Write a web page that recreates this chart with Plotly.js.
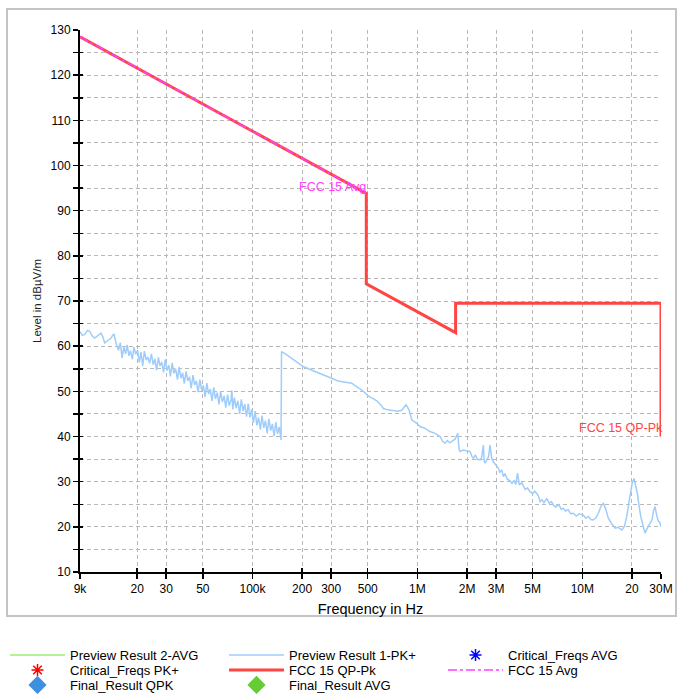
<!DOCTYPE html>
<html><head><meta charset="utf-8">
<script src="https://cdn.plot.ly/plotly-3.0.1.min.js"></script>
<style>html,body{margin:0;padding:0;background:#fff;}</style>
</head><body>
<div id="chart" style="width:679px;height:694px;"></div>
<script>
// ---- axis ticks ----
const xTickVals = [9e3,2e4,3e4,5e4,1e5,2e5,3e5,5e5,1e6,2e6,3e6,5e6,1e7,2e7,3e7];
const xTickText = ['9k','20','30','50','100k','200','300','500','1M','2M','3M','5M','10M','20','30M'];
const yTickVals = [10,15,20,25,30,35,40,45,50,55,60,65,70,75,80,85,90,95,100,105,110,115,120,125,130];
const yTickText = ['10','','20','','30','','40','','50','','60','','70','','80','','90','','100','','110','','120','','130'];

// ---- Preview Result 1-PK+ (frequency in kHz, level in dBµV/m), 9 kHz – 150 kHz ----
const pkLowFreqKHz = [
 9.0,9.3,9.6,10.0,10.3,10.7,11.05,11.5,12.07,12.4,
 12.7,13.2,13.9,14.2,14.47,14.88,15.0,15.4,15.8,16.2,
 16.6,17.0,17.4,17.8,18.2,18.7,19.1,19.6,20.1,20.6,
 21.1,21.6,22.1,22.7,23.2,23.8,24.4,25.0,25.6,26.2,
 26.9,27.5,28.2,28.9,29.6,30.3,31.1,31.8,32.6,33.4,
 34.2,35.1,35.9,36.8,37.7,38.6,39.6,40.5,41.5,42.5,
 43.6,44.6,45.7,46.8,48.0,49.2,50.4,51.6,52.9,54.2,
 55.5,56.8,58.2,59.6,61.1,62.6,64.1,65.7,67.3,68.9,
 70.6,72.3,74.1,75.0,75.9,77.7,79.6,81.6,83.6,85.6,
 87.7,89.8,92.0,94.3,96.6,98.9,101.3,103.8,106.3,108.9,
 111.6,114.3,117.1,119.9,122.8,125.8,128.9,132.0,135.2,138.5,
 141.9,145.4,149.0];
const pkLowLevel = [
 63.2,62.4,62.6,63.5,63.3,62.2,61.8,62.4,62.9,62.0,
 60.7,61.2,61.8,62.4,62.7,60.7,60.2,59.1,60.8,57.4,
 59.9,58.3,60.3,57.9,59.0,57.1,59.8,58.2,59.1,56.4,
 58.7,55.6,58.9,56.9,57.6,56.2,58.3,55.9,57.2,54.7,
 57.5,55.6,56.5,54.2,57.1,54.6,55.8,53.3,56.3,54.0,
 55.0,52.6,55.4,52.9,54.1,51.7,54.4,52.3,53.2,50.7,
 53.6,51.4,52.3,49.8,52.6,50.2,51.3,48.7,51.8,49.4,
 50.5,47.9,50.9,48.3,49.7,47.1,50.0,47.6,49.0,46.4,
 49.3,46.8,48.1,50.2,46.0,48.6,46.3,47.9,45.0,48.2,
 45.6,47.2,44.4,47.3,44.2,46.0,43.0,45.6,42.5,44.2,
 41.5,44.6,41.9,43.5,40.7,43.9,41.3,42.8,40.1,43.2,
 40.6,42.1,39.2];

// ---- Preview Result 1-PK+, 150 kHz – 30 MHz ----
const pkHighFreqKHz = [
 150,160,180,203,239.5,270,302,330,360,400,
 430,460,504,516,540,567,600,622,660,715,
 760,804,853,875,894,924,960,991,1038,1100,
 1193,1280,1372,1420,1471,1520,1570,1616,1691,1757,
 1790,1814,1900,2000,2085,2140,2184,2250,2300,2399,
 2450,2512,2540,2572,2650,2700,2757,2820,2887,3000,
 3097,3160,3250,3320,3400,3500,3646,3750,3850,3950,
 4050,4150,4300,4389,4500,4650,4820,5000,5150,5293,
 5420,5543,5700,5850,6087,6300,6500,6675,6900,7200,
 7450,7672,7900,8200,8500,8823,9200,9600,10140,10500,
 10900,11300,11660,12100,12510,13000,13410,13800,14380,15000,
 15790,16500,17350,18000,18600,19200,19670,20100,20590,21000,
 21560,22100,22610,23300,24010,24800,25750,26500,27000,27610,
 28200,28920,29500,30000];
const pkHighLevel = [
 58.8,58.2,56.8,55.5,54.4,53.7,52.9,52.3,52.0,51.8,
 51.0,50.3,49.0,48.7,48.4,47.9,47.0,46.2,45.9,45.7,
 45.6,45.8,47.0,46.4,45.7,43.7,43.3,42.9,42.2,41.9,
 41.1,40.7,40.0,39.0,38.5,39.1,38.6,38.9,39.4,40.7,
 37.2,36.7,37.0,36.8,36.7,35.6,35.2,35.9,35.0,34.8,
 35.3,38.1,34.6,34.1,34.9,35.5,38.1,35.2,34.4,33.6,
 33.0,32.1,32.6,31.1,31.8,30.6,30.2,29.6,30.3,29.4,
 31.9,29.3,29.8,29.1,28.3,28.6,27.8,27.4,27.9,27.4,
 26.8,25.6,26.0,25.3,26.3,25.2,25.6,24.8,24.4,24.9,
 23.9,24.1,23.5,23.8,22.9,23.0,22.4,22.9,22.6,21.9,
 22.3,21.6,21.5,22.0,23.0,24.6,25.2,24.2,21.9,20.8,
 19.7,19.9,19.3,20.1,22.3,25.5,28.2,29.8,30.7,29.4,
 27.4,24.6,22.3,20.4,18.6,19.7,20.8,21.6,23.5,24.5,
 22.7,21.2,21.0,20.0];

// ---- FCC 15 limit lines (Hz, dBµV/m) ----
const qpFreq = [9e3, 490e3, 490e3, 1.705e6, 1.705e6, 30e6, 30e6];
const qpLevel = [128.5, 93.8, 73.8, 63.0, 69.5, 69.5, 40.0];
const avgFreq = [9e3, 490e3];
const avgLevel = [128.5, 93.8];

// ---- labels ----
const labelAvg = {text: 'FCC 15 Avg', freq: 490e3, level: 95.3};
const labelQP = {text: 'FCC 15 QP-Pk', freq: 30e6, level: 41.9};

const pkFreq = pkLowFreqKHz.concat(pkHighFreqKHz).map(v => v * 1000);
const pkLevel = pkLowLevel.concat(pkHighLevel);

const FONT = 'Liberation Sans, Arial, sans-serif';
const xRange = [Math.log10(9e3), Math.log10(3e7)];
const yRange = [10, 130];
const NONE = [null]; // legend-only series (no visible points in the chart)

const traces = [
  {name: 'Preview Result 1-PK+', x: pkFreq, y: pkLevel, type: 'scatter', mode: 'lines',
   line: {color: '#9fcdfb', width: 1.5}, legend: 'legend2'},
  {name: 'Preview Result 2-AVG', x: NONE, y: NONE, type: 'scatter', mode: 'lines',
   line: {color: '#99ee77', width: 1.5}, legend: 'legend'},
  {name: 'Critical_Freqs AVG', x: NONE, y: NONE, type: 'scatter', mode: 'markers',
   marker: {symbol: 'asterisk-open', size: 10, color: '#0000ff', line: {color: '#0000ff', width: 1.5}}, legend: 'legend3'},
  {name: 'Critical_Freqs PK+', x: NONE, y: NONE, type: 'scatter', mode: 'markers',
   marker: {symbol: 'asterisk-open', size: 10, color: '#ff0000', line: {color: '#ff0000', width: 1.5}}, legend: 'legend4'},
  {name: 'FCC 15 QP-Pk', x: qpFreq, y: qpLevel, type: 'scatter', mode: 'lines',
   line: {color: '#ff4444', width: 3}, legend: 'legend5'},
  {name: 'FCC 15 Avg', x: avgFreq, y: avgLevel, type: 'scatter', mode: 'lines',
   line: {color: '#ff40ff', width: 1.5, dash: 'dashdot'}, legend: 'legend6'},
  {name: 'Final_Result QPK', x: NONE, y: NONE, type: 'scatter', mode: 'markers',
   marker: {symbol: 'diamond', size: 14, color: '#3f8fe0'}, legend: 'legend7'},
  {name: 'Final_Result AVG', x: NONE, y: NONE, type: 'scatter', mode: 'markers',
   marker: {symbol: 'diamond', size: 14, color: '#66cc33'}, legend: 'legend8'},
  {x: NONE, y: NONE, xaxis: 'x2', yaxis: 'y2', showlegend: false, type: 'scatter', mode: 'lines'}
];

// one legend box per entry, laid out as 3 columns x 3 rows below the frame
const colLeftPx = [5, 224, 443];
const rowTopPx = [640, 655, 670];
function legendAt(col, row, itemWidth) {
  return {
    orientation: 'h', xref: 'container', yref: 'container',
    x: colLeftPx[col] / 679, xanchor: 'left', y: 1 - rowTopPx[row] / 694, yanchor: 'top',
    itemwidth: itemWidth || 55,
    font: {family: FONT, size: 13, color: '#000'}, bgcolor: 'rgba(0,0,0,0)'
  };
}

const gridDash = '4px,3px';
const layout = {
  width: 679, height: 694,
  margin: {l: 80, r: 18, t: 30, b: 122},
  paper_bgcolor: '#ffffff', plot_bgcolor: '#ffffff',
  font: {family: FONT, color: '#000', size: 11},
  showlegend: true,
  xaxis: {
    type: 'log', range: xRange, tickmode: 'array', tickvals: xTickVals, ticktext: xTickText,
    ticks: 'outside', ticklen: 5, tickwidth: 1.5, tickcolor: '#000',
    showline: true, linecolor: '#000', linewidth: 2,
    showgrid: true, gridcolor: '#b8b8b8', gridwidth: 1, griddash: gridDash,
    zeroline: false, tickfont: {family: FONT, size: 12, color: '#000'},
    title: {text: 'Frequency in Hz', font: {family: FONT, size: 14.5, color: '#000'}, standoff: 8},
    fixedrange: true
  },
  yaxis: {
    range: yRange, tickmode: 'array', tickvals: yTickVals, ticktext: yTickText,
    ticks: 'outside', ticklen: 5, tickwidth: 1.5, tickcolor: '#000',
    showline: true, linecolor: '#000', linewidth: 2,
    showgrid: true, gridcolor: '#b8b8b8', gridwidth: 1, griddash: gridDash,
    zeroline: false, tickfont: {family: FONT, size: 12, color: '#000'},
    title: {text: 'Level in dBµV/m', font: {family: FONT, size: 11.5, color: '#222'}, standoff: 7},
    fixedrange: true
  },
  xaxis2: {
    type: 'log', range: xRange, overlaying: 'x', anchor: 'y2', tickmode: 'array', tickvals: xTickVals,
    ticks: 'inside', ticklen: 4, tickwidth: 1.5, tickcolor: '#000', showticklabels: false,
    showgrid: false, showline: false, zeroline: false, fixedrange: true
  },
  yaxis2: {
    range: yRange, overlaying: 'y', anchor: 'x2', tickmode: 'array', tickvals: yTickVals,
    ticks: 'inside', ticklen: 3, tickwidth: 1.5, tickcolor: '#000', showticklabels: false,
    showgrid: false, showline: false, zeroline: false, fixedrange: true
  },
  legend: legendAt(0, 0),
  legend2: legendAt(1, 0),
  legend3: legendAt(2, 0),
  legend4: legendAt(0, 1),
  legend5: legendAt(1, 1),
  legend6: legendAt(2, 1),
  legend7: legendAt(0, 2),
  legend8: legendAt(1, 2),
  annotations: [
    {x: Math.log10(labelAvg.freq), y: labelAvg.level, xref: 'x', yref: 'y', text: labelAvg.text,
     showarrow: false, xanchor: 'right', yanchor: 'middle', xshift: 2,
     font: {family: FONT, size: 12.5, color: '#ff40ff'}},
    {x: Math.log10(labelQP.freq), y: labelQP.level, xref: 'x', yref: 'y', text: labelQP.text,
     showarrow: false, xanchor: 'right', yanchor: 'middle', xshift: 4,
     font: {family: FONT, size: 12.5, color: '#ff4444'}}
  ],
  shapes: [
    {type: 'rect', xref: 'paper', yref: 'paper', x0: -0.1256, x1: 1.0258, y0: -0.0812, y1: 1.0387,
     line: {color: '#c4c4c4', width: 2}, fillcolor: 'rgba(0,0,0,0)', layer: 'below'}
  ]
};

Plotly.newPlot('chart', traces, layout, {staticPlot: true, displayModeBar: false});
</script>
</body></html>
